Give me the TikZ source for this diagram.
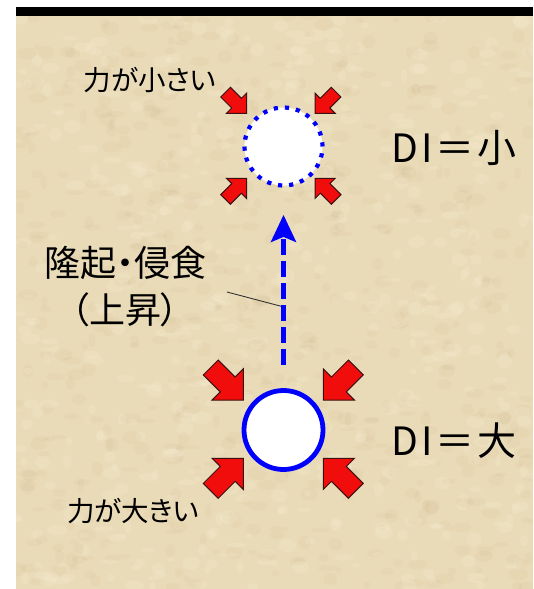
\documentclass[tikz,border=0pt]{standalone}
\usepackage{fontspec}
\setmainfont{Noto Sans CJK JP}[RawFeature={+palt}]
\newfontfamily\wideface{Noto Sans CJK JP}[LetterSpace=7]
\usetikzlibrary{arrows.meta,positioning}
\def\weaksize{78pt}
\def\strongsize{79pt}
\definecolor{sand}{HTML}{EADBB8}
\definecolor{sanddark}{HTML}{CDB68C}
\definecolor{sandlight}{HTML}{F5EBD2}
\definecolor{pushred}{HTML}{F20D0D}
\definecolor{pushedge}{HTML}{3A1010}
\definecolor{liftblue}{HTML}{0000FF}
\tikzset{
  pics/push/.style={code={
    \filldraw[fill=pushred,draw=pushedge,line width=1pt,line join=miter]
      (0,0) -- (-22,-22) -- (-22,-10.5) -- (-46,-10.5) -- (-46,10.5) -- (-22,10.5) -- (-22,22) -- cycle;
  }}
}

\begin{document}
\begin{tikzpicture}[x=1pt,y=-1pt]
    \tikzstyle{pore}=[circle,draw=liftblue,fill=white,inner sep=0pt]
    \tikzstyle{weak pore}=[pore,minimum size=\weaksize,line width=4.2pt,dash pattern=on 4.2pt off 6.94pt]
    \tikzstyle{strong pore}=[pore,minimum size=\strongsize,line width=4.8pt]
    \tikzstyle{tag}=[inner sep=0pt,font=\fontsize{27.5}{32}\selectfont]
    \tikzstyle{big tag}=[inner sep=0pt,align=center,font=\fontsize{36}{47}\selectfont]
    \tikzstyle{di}=[inner sep=0pt,font=\wideface\fontsize{39}{44}\selectfont]
    \tikzstyle{lift}=[-{Stealth[length=27pt,width=25pt,inset=5pt]},draw=liftblue,line width=4.5pt,dash pattern=on 16pt off 6pt]
    \tikzstyle{leader}=[draw=black!80,line width=0.9pt]
    \useasboundingbox (0,0) rectangle (533,589);

    % Backdrop
    \fill[black] (16,7) rectangle (533,16);
    \fill[sand] (16,16) rectangle (533,589);
    \begin{scope}
        \clip (16,16) rectangle (533,589);
        \pgfmathsetseed{41}
        \foreach \i in {1,...,600} {
            \pgfmathsetmacro\px{16+517*rnd}
            \pgfmathsetmacro\py{16+573*rnd}
            \pgfmathsetmacro\rx{3+7*rnd}
            \pgfmathsetmacro\ry{2+5*rnd}
            \fill[sanddark,opacity=0.13] (\px,\py) ellipse ({\rx} and {\ry});
        }
        \foreach \i in {1,...,500} {
            \pgfmathsetmacro\px{16+517*rnd}
            \pgfmathsetmacro\py{16+573*rnd}
            \pgfmathsetmacro\rx{3+7*rnd}
            \pgfmathsetmacro\ry{2+5*rnd}
            \fill[sandlight,opacity=0.25] (\px,\py) ellipse ({\rx} and {\ry});
        }
    \end{scope}

    % Draw the pores
    \node[weak pore] (weak) at (283.5,146.5) {};
    \node[strong pore] (strong) at (283.5,430) {};

    % Push arrows round the pores
    \foreach \dx/\dy/\ang in {-36.8/-33.2/-45, 31.5/-33.2/-135, -36.8/31.8/45, 31.5/31.8/135}
        \path (weak) ++(\dx,\dy) pic[rotate=\ang,scale=0.65] {push};
    \foreach \dx/\dy/\ang in {-40.2/-30/-45, 39.8/-30/-135, -40.2/28.3/45, 39.8/28.3/135}
        \path (strong) ++(\dx,\dy) pic[rotate=\ang] {push};

    % Labels
    \node[tag] (push-weak) at (150,80) {力が小さい};
    \node[tag] (push-strong) at (133,511) {力が大きい};
    \node[di, right=67pt of weak, yshift=-1.5pt] (di-weak) {DI＝小};
    \node[di, right=66pt of strong, yshift=-11pt] (di-strong) {DI＝大};
    \node[big tag] (uplift) at (125,287) {隆起・侵食\\（上昇）};

    % Uplift arrow and its leader
    \coordinate (tail) at (227,292);
    \path (strong.north) -- coordinate[pos=0.405] (onlift) (weak.south);
    \draw[leader] (tail) -- (onlift);
    \draw[lift,shorten <=23pt,shorten >=27.3pt] (strong.north) -- (weak.south);
\end{tikzpicture}
\end{document}
